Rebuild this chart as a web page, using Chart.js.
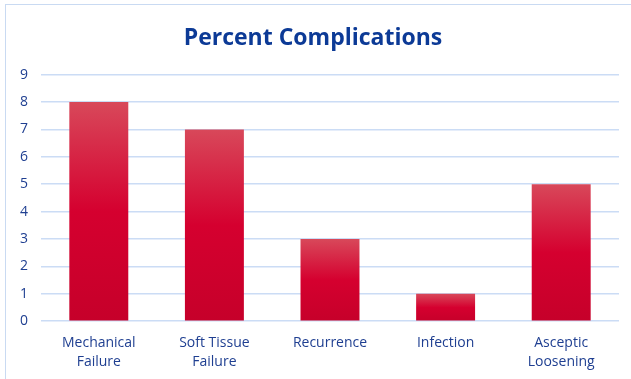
<!DOCTYPE html>
<html>
<head>
<meta charset="utf-8">
<script src="https://cdn.jsdelivr.net/npm/chart.js@4"></script>
<style>
  html, body { margin: 0; padding: 0; background: #fff; overflow: hidden; }
  #frame { position: absolute; left: 5px; top: 4px; width: 640px; height: 390px; border: 1px solid #c9daf2; }
  #wrap { position: absolute; left: 0; top: 0; width: 631px; height: 379px; }
</style>
</head>
<body>
<div id="frame"></div>
<div id="wrap"><canvas id="chart"></canvas></div>
<script>
// Data
const categories = [['Mechanical', 'Failure'], ['Soft Tissue', 'Failure'], 'Recurrence', 'Infection', ['Asceptic', 'Loosening']];
const complications = [8, 7, 3, 1, 5];
const yTicks = [0, 1, 2, 3, 4, 5, 6, 7, 8, 9];

const fontFamily = "'Open Sans', 'Noto Sans', sans-serif";
const blue = '#1f3f91';

// gradient per bar, light on top, deep red at the bottom
function barGradient(context) {
    const chart = context.chart;
    if (!chart.chartArea || context.type !== 'data') return '#d0002b';
    const yScale = chart.scales.y;
    const top = yScale.getPixelForValue(context.raw);
    const base = yScale.getPixelForValue(0);
    const g = chart.ctx.createLinearGradient(0, top, 0, base);
    g.addColorStop(0, '#d8485a');
    g.addColorStop(0.5, '#d5002f');
    g.addColorStop(1, '#c6002a');
    return g;
}

const ctx = document.getElementById('chart').getContext('2d');
const chart = new Chart(ctx, {
    type: 'bar',
    data: {
        labels: categories,
        datasets: [{
            data: complications,
            backgroundColor: barGradient,
            borderWidth: 0,
            categoryPercentage: 1,
            barPercentage: 0.51
        }]
    },
    options: {
        responsive: true,
        maintainAspectRatio: false,
        animation: false,
        layout: { padding: { left: 7, right: 12, top: 8, bottom: 4 } },
        plugins: {
            legend: { display: false },
            tooltip: { enabled: false },
            title: {
                display: true,
                text: 'Percent Complications',
                color: '#0c3a96',
                font: { family: fontFamily, size: 23, weight: 'bold' },
                padding: { top: 17, bottom: 22 }
            }
        },
        scales: {
            x: {
                grid: { display: false },
                border: { display: false },
                ticks: {
                    color: blue,
                    font: { family: fontFamily, size: 14, lineHeight: 1.35 },
                    maxRotation: 0,
                    padding: 4
                }
            },
            y: {
                min: 0,
                max: 9,
                afterBuildTicks: axis => { axis.ticks = yTicks.map(v => ({ value: v })); },
                grid: { color: '#cbdcf5', lineWidth: 1.5, drawTicks: false },
                border: { display: false },
                ticks: {
                    color: blue,
                    font: { family: fontFamily, size: 14 },
                    padding: 13
                }
            }
        }
    }
});
</script>
</body>
</html>
